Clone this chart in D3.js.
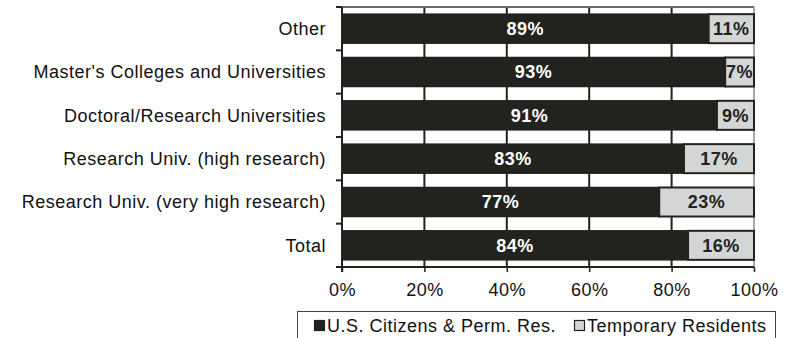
<!DOCTYPE html>
<html>
<head>
<meta charset="utf-8">
<script src="https://cdn.jsdelivr.net/npm/d3@7"></script>
<style>
  body { margin: 0; background: #fff; }
  svg { display: block; font-family: "Liberation Sans", Arial, sans-serif; }
  svg text { letter-spacing: 0.5px; }
</style>
</head>
<body>
<svg id="chart" width="786" height="338"></svg>
<script>
// Categories, top to bottom
const categories = [
  "Other",
  "Master's Colleges and Universities",
  "Doctoral/Research Universities",
  "Research Univ. (high research)",
  "Research Univ. (very high research)",
  "Total"
];
// Share of each group (percent)
const citizens = [89, 93, 91, 83, 77, 84];
const temporary = [11, 7, 9, 17, 23, 16];
const seriesNames = ["U.S. Citizens & Perm. Res.", "Temporary Residents"];
const xTicks = [0, 20, 40, 60, 80, 100];

const dark = "#22231f";
const light = "#d4d6d6";
const fontSize = 18;

const svg = d3.select("#chart");
const plotLeft = 342, plotRight = 754, plotTop = 7, plotBottom = 267;

const x = d3.scaleLinear().domain([0, 100]).range([plotLeft, plotRight]);
const y = d3.scaleBand().domain(categories).range([plotTop, plotBottom]).paddingInner(0.33).paddingOuter(0.165);

// Gridlines at interior ticks
svg.append("g").selectAll("line")
  .data(xTicks.filter(t => t > 0 && t < 100))
  .join("line")
  .attr("x1", d => x(d)).attr("x2", d => x(d))
  .attr("y1", plotTop).attr("y2", plotBottom)
  .attr("stroke", dark).attr("stroke-width", 2);

// Plot frame: top and right edges
svg.append("line").attr("x1", plotLeft).attr("x2", plotRight).attr("y1", plotTop).attr("y2", plotTop)
  .attr("stroke", "#6b6b6b").attr("stroke-width", 2);
svg.append("line").attr("x1", plotRight).attr("x2", plotRight).attr("y1", plotTop).attr("y2", plotBottom)
  .attr("stroke", "#8a8a8a").attr("stroke-width", 1.5);

const rows = categories.map((c, i) => ({ cat: c, a: citizens[i], b: temporary[i] }));

const g = svg.append("g");
// Citizens segments
g.selectAll("rect.a").data(rows).join("rect")
  .attr("class", "a")
  .attr("x", x(0)).attr("y", d => y(d.cat))
  .attr("width", d => x(d.a) - x(0)).attr("height", y.bandwidth())
  .attr("fill", dark).attr("stroke", dark).attr("stroke-width", 1.5);
// Temporary residents segments
g.selectAll("rect.b").data(rows).join("rect")
  .attr("class", "b")
  .attr("x", d => x(d.a)).attr("y", d => y(d.cat))
  .attr("width", d => x(d.a + d.b) - x(d.a)).attr("height", y.bandwidth())
  .attr("fill", light).attr("stroke", dark).attr("stroke-width", 2);

// Value labels
g.selectAll("text.a").data(rows).join("text")
  .attr("class", "a")
  .attr("x", d => (x(0) + x(d.a)) / 2).attr("y", d => y(d.cat) + y.bandwidth() / 2)
  .attr("dy", "0.36em").attr("text-anchor", "middle")
  .attr("fill", "#fff").attr("font-weight", "bold").attr("font-size", fontSize)
  .text(d => d.a + "%");
g.selectAll("text.b").data(rows).join("text")
  .attr("class", "b")
  .attr("x", d => (x(d.a) + x(d.a + d.b)) / 2).attr("y", d => y(d.cat) + y.bandwidth() / 2)
  .attr("dy", "0.36em").attr("text-anchor", "middle")
  .attr("fill", dark).attr("font-weight", "bold").attr("font-size", fontSize)
  .text(d => d.b + "%");

// Left axis with ticks at band boundaries
const boundaries = d3.range(categories.length + 1).map(i => plotTop + i * (plotBottom - plotTop) / categories.length);
const yAxis = svg.append("g");
yAxis.append("line").attr("x1", plotLeft).attr("x2", plotLeft).attr("y1", plotTop).attr("y2", plotBottom + 5)
  .attr("stroke", dark).attr("stroke-width", 2);
yAxis.selectAll("line.t").data(boundaries).join("line")
  .attr("class", "t")
  .attr("x1", plotLeft - 6).attr("x2", plotLeft).attr("y1", d => d).attr("y2", d => d)
  .attr("stroke", dark).attr("stroke-width", 2);
yAxis.selectAll("text").data(categories).join("text")
  .attr("x", 326).attr("y", d => y(d) + y.bandwidth() / 2)
  .attr("dy", "0.36em").attr("text-anchor", "end")
  .attr("font-size", fontSize).attr("fill", "#111")
  .text(d => d);

// Bottom axis
const xAxis = svg.append("g").attr("transform", `translate(0,${plotBottom})`)
  .call(d3.axisBottom(x).tickValues(xTicks).tickSize(5).tickFormat(d => d + "%"));
xAxis.select(".domain").attr("stroke", dark).attr("stroke-width", 2).attr("d", `M${plotLeft},0H${plotRight}`);
xAxis.selectAll(".tick line").attr("stroke", dark).attr("stroke-width", 1.5);
xAxis.selectAll(".tick text").attr("font-size", fontSize).attr("fill", "#111")
  .attr("font-family", "Liberation Sans, Arial, sans-serif").attr("y", 16);

// Legend
const legend = svg.append("g");
legend.append("rect").attr("x", 297.5).attr("y", 311.5).attr("width", 478).attr("height", 40)
  .attr("fill", "#fff").attr("stroke", "#444").attr("stroke-width", 1);
const legendItems = [
  { name: seriesNames[0], fill: dark, x: 314 },
  { name: seriesNames[1], fill: light, x: 574 }
];
const li = legend.selectAll("g.item").data(legendItems).join("g").attr("class", "item");
li.append("rect").attr("x", d => d.x + 0.5).attr("y", 320.5).attr("width", 10).attr("height", 10)
  .attr("fill", d => d.fill).attr("stroke", dark).attr("stroke-width", 1.2);
li.append("text").attr("x", d => d.x + 13).attr("y", 332)
  .attr("font-size", fontSize).attr("fill", "#111").text(d => d.name);
</script>
</body>
</html>
